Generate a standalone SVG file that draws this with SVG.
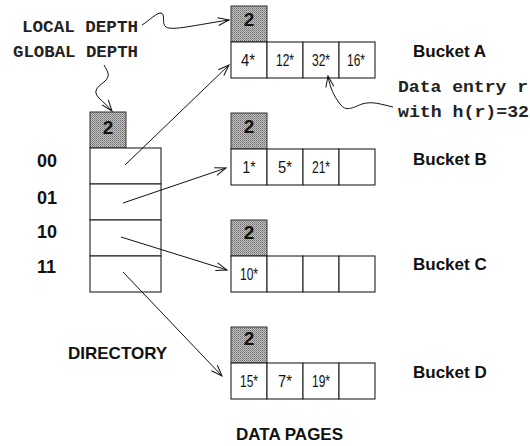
<svg xmlns="http://www.w3.org/2000/svg" width="530" height="446" viewBox="0 0 530 446">
<style>
.cell{fill:#fff;stroke:#222;stroke-width:1.1}
.depth{fill:url(#stip);stroke:#333;stroke-width:1}
.dnum{font-family:"Liberation Sans",Arial,sans-serif;font-weight:bold;font-size:19px;text-anchor:middle;fill:#111}
.num{font-family:"Liberation Sans",Arial,sans-serif;font-size:16.5px;text-anchor:middle;fill:#111}
.lbl{font-family:"Liberation Sans",Arial,sans-serif;font-weight:bold;font-size:17px;fill:#111}
.key{font-family:"Liberation Sans",Arial,sans-serif;font-weight:bold;font-size:18px;fill:#111}
.mono{font-family:"Liberation Mono","Courier New",monospace;font-weight:bold;font-size:17px;fill:#222}
.conn{fill:none;stroke:#111;stroke-width:1}
</style>
<defs>
<pattern id="stip" width="2" height="2" patternUnits="userSpaceOnUse">
<rect width="2" height="2" fill="#c4c4c4"/>
<rect width="1" height="1" fill="#6e6e6e"/>
<rect x="1" y="1" width="1" height="1" fill="#8a8a8a"/>
</pattern>
<marker id="arr" markerWidth="14" markerHeight="10" refX="12" refY="5" orient="auto" markerUnits="userSpaceOnUse">
<path d="M1,1 L12,5 L1,9" fill="none" stroke="#111" stroke-width="1"/>
</marker>
</defs>

<g id="labels">
<text class="mono" x="22" y="32" textLength="116" lengthAdjust="spacingAndGlyphs">LOCAL DEPTH</text>
<text class="mono" x="13" y="57" textLength="125" lengthAdjust="spacingAndGlyphs">GLOBAL DEPTH</text>
<text class="mono" x="398" y="92" textLength="130" lengthAdjust="spacingAndGlyphs">Data entry r</text>
<text class="mono" x="398" y="117" textLength="131" lengthAdjust="spacingAndGlyphs">with h(r)=32</text>
<text class="lbl" x="68" y="359">DIRECTORY</text>
<text class="lbl" x="236" y="440">DATA PAGES</text>
</g>

<g id="directory">
<rect class="depth" x="90" y="112" width="36" height="36"/>
<text class="dnum" x="108" y="134">2</text>
<rect class="cell" x="90" y="148" width="71" height="36"/>
<rect class="cell" x="90" y="184" width="71" height="36"/>
<rect class="cell" x="90" y="220" width="71" height="36"/>
<rect class="cell" x="90" y="256" width="71" height="36"/>
<text class="key" x="37" y="167">00</text>
<text class="key" x="37" y="204">01</text>
<text class="key" x="37" y="238">10</text>
<text class="key" x="37" y="273">11</text>
</g>

<g id="bucketA">
<rect class="depth" x="231" y="6" width="36" height="36"/>
<text class="dnum" x="249" y="26">2</text>
<rect class="cell" x="231" y="42" width="36" height="36"/>
<rect class="cell" x="267" y="42" width="36" height="36"/>
<rect class="cell" x="303" y="42" width="36" height="36"/>
<rect class="cell" x="339" y="42" width="36" height="36"/>
<text class="num" x="248" y="66" textLength="14" lengthAdjust="spacingAndGlyphs">4*</text>
<text class="num" x="285" y="66" textLength="18" lengthAdjust="spacingAndGlyphs">12*</text>
<text class="num" x="321" y="66" textLength="18" lengthAdjust="spacingAndGlyphs">32*</text>
<text class="num" x="356" y="66" textLength="18" lengthAdjust="spacingAndGlyphs">16*</text>
<text class="lbl" x="413" y="57">Bucket A</text>
</g>

<g id="bucketB">
<rect class="depth" x="231" y="113" width="36" height="36"/>
<text class="dnum" x="249" y="133">2</text>
<rect class="cell" x="231" y="149" width="36" height="36"/>
<rect class="cell" x="267" y="149" width="36" height="36"/>
<rect class="cell" x="303" y="149" width="36" height="36"/>
<rect class="cell" x="339" y="149" width="36" height="36"/>
<text class="num" x="249" y="173" textLength="13" lengthAdjust="spacingAndGlyphs">1*</text>
<text class="num" x="285" y="173" textLength="14" lengthAdjust="spacingAndGlyphs">5*</text>
<text class="num" x="321" y="173" textLength="18" lengthAdjust="spacingAndGlyphs">21*</text>
<text class="lbl" x="413" y="165">Bucket B</text>
</g>

<g id="bucketC">
<rect class="depth" x="231" y="220" width="36" height="36"/>
<text class="dnum" x="249" y="239">2</text>
<rect class="cell" x="231" y="256" width="36" height="36"/>
<rect class="cell" x="267" y="256" width="36" height="36"/>
<rect class="cell" x="303" y="256" width="36" height="36"/>
<rect class="cell" x="339" y="256" width="36" height="36"/>
<text class="num" x="249" y="280" textLength="18" lengthAdjust="spacingAndGlyphs">10*</text>
<text class="lbl" x="413" y="270">Bucket C</text>
</g>

<g id="bucketD">
<rect class="depth" x="231" y="327" width="36" height="36"/>
<text class="dnum" x="249" y="345">2</text>
<rect class="cell" x="231" y="363" width="36" height="36"/>
<rect class="cell" x="267" y="363" width="36" height="36"/>
<rect class="cell" x="303" y="363" width="36" height="36"/>
<rect class="cell" x="339" y="363" width="36" height="36"/>
<text class="num" x="249" y="387" textLength="18" lengthAdjust="spacingAndGlyphs">15*</text>
<text class="num" x="285" y="387" textLength="14" lengthAdjust="spacingAndGlyphs">7*</text>
<text class="num" x="321" y="387" textLength="18" lengthAdjust="spacingAndGlyphs">19*</text>
<text class="lbl" x="413" y="378">Bucket D</text>
</g>

<g id="connectors">
<path class="conn" marker-end="url(#arr)" d="M142,25 C150,20 156,13 161,13 C166,14 161,24 166,27 C172,31 195,25 229,20"/>
<path class="conn" marker-end="url(#arr)" d="M104,65 C108,72 111,76 104,82 C96,88 93,92 99,98 C104,103 108,106 112,111"/>
<path class="conn" marker-end="url(#arr)" d="M393,107 C380,104 372,101 362,104 C352,108 346,112 340,104 C334,96 330,88 328,76"/>
<line class="conn" marker-end="url(#arr)" x1="125" y1="165" x2="229" y2="65"/>
<line class="conn" marker-end="url(#arr)" x1="123" y1="203" x2="226" y2="168"/>
<line class="conn" marker-end="url(#arr)" x1="121" y1="237" x2="227" y2="270"/>
<line class="conn" marker-end="url(#arr)" x1="123" y1="272" x2="222" y2="376"/>
</g>
</svg>
